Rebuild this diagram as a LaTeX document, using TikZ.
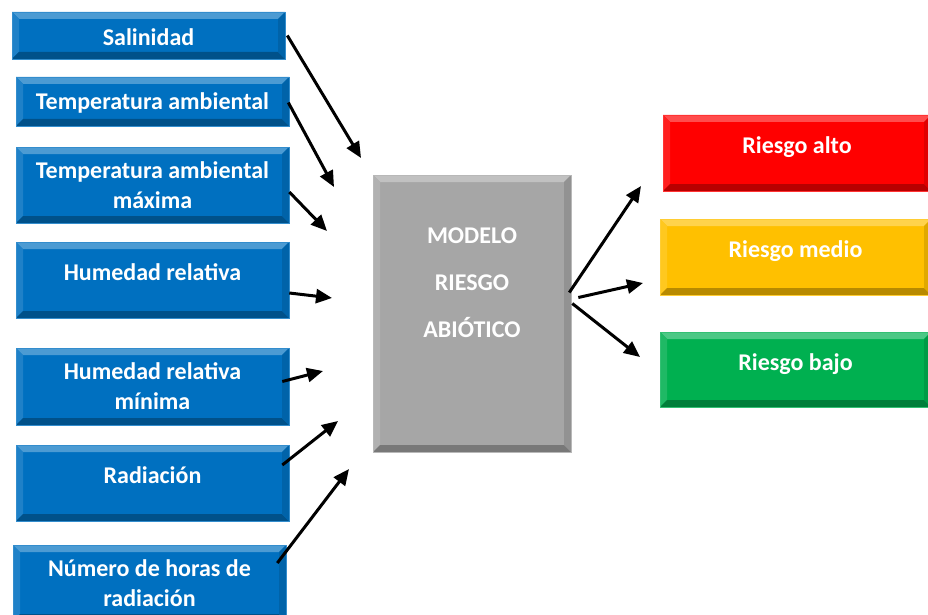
\documentclass[tikz,border=0pt]{standalone}
\usepackage{fontspec}
\setmainfont{Carlito}
\usetikzlibrary{arrows.meta,calc}

\definecolor{boxblue}{RGB}{0,112,192}
\definecolor{boxgray}{RGB}{166,166,166}
\definecolor{boxred}{RGB}{255,0,0}
\definecolor{boxyellow}{RGB}{255,192,0}
\definecolor{boxgreen}{RGB}{0,176,80}

% shift a single line of text inside its box without changing the box size
\newcommand{\liftline}[2]{\raisebox{#1}[\height][\depth]{#2}}

\tikzset{
  bevelbox/.style={
    rectangle, inner sep=0pt, fill=#1, draw=#1!80!white, line width=0.6pt,
    text=white, align=center,
    font=\fontsize{24}{30}\selectfont\bfseries,
    path picture={
      \coordinate (bnw) at (path picture bounding box.north west);
      \coordinate (bse) at (path picture bounding box.south east);
      \coordinate (bne) at (bnw -| bse);
      \coordinate (bsw) at (bnw |- bse);
      % top and left faces lighter, bottom and right faces darker
      \fill[#1!70!white] (bnw) -- (bne) -- ($(bne)+(-7,7)$) -- ($(bnw)+(7,7)$) -- cycle;
      \fill[#1!88!white] (bnw) -- (bsw) -- ($(bsw)+(7,-7)$) -- ($(bnw)+(7,7)$) -- cycle;
      \fill[#1!72!black] (bsw) -- (bse) -- ($(bse)+(-7,-7)$) -- ($(bsw)+(7,-7)$) -- cycle;
      \fill[#1!88!black] (bne) -- (bse) -- ($(bse)+(-7,-7)$) -- ($(bne)+(-7,7)$) -- cycle;
    }
  },
  inbox/.style={bevelbox=boxblue, minimum width=273pt, minimum height=76pt},
  outbox/.style={bevelbox=#1, minimum height=76pt},
  flow/.style={-{Triangle[length=16pt,width=14pt]}, line width=3pt, black}
}

\begin{document}
\begin{tikzpicture}[x=1pt,y=-1pt]
  \useasboundingbox (0,0) rectangle (928,615);
  \clip (0,0) rectangle (928,615);
  \fill[white] (0,0) rectangle (928,615);

  % input variables
  \node[inbox, minimum height=47pt] (sal)  at (148.5,35.5) {\liftline{-1.5pt}{Salinidad}};
  \node[inbox, minimum height=49pt] (tamb) at (152.5,101.5) {\liftline{-1.5pt}{Temperatura ambiental}};
  \node[inbox] (tmax) at (152.5,185) {Temperatura ambiental\\máxima};
  \node[inbox] (hum)  at (152.5,280) {\liftline{8pt}{Humedad relativa}};
  \node[inbox, minimum height=77pt] (hmin) at (152.5,386.5) {Humedad relativa\\mínima};
  \node[inbox] (rad)  at (152.5,483) {\liftline{8pt}{Radiación}};
  \node[inbox] (nh)   at (149.5,583) {Número de horas de\\radiación};

  % model
  \node[bevelbox=boxgray, minimum width=198pt, minimum height=277pt] (model) at (472,313.5)
    {\liftline{32pt}{\fontsize{24}{47}\selectfont\begin{tabular}{@{}c@{}}MODELO\\RIESGO\\ABIÓTICO\end{tabular}}};

  % risk levels
  \node[outbox=boxred,    minimum width=268pt] (alto)  at (797,153)   {\liftline{6pt}{Riesgo alto}};
  \node[outbox=boxyellow, minimum width=271pt] (medio) at (795.5,257) {\liftline{6pt}{Riesgo medio}};
  \node[outbox=boxgreen,  minimum width=271pt, minimum height=75pt] (bajo) at (795.5,369.5) {\liftline{5pt}{Riesgo bajo}};

  % arrow heads
  \coordinate (e1) at (361,158);
  \coordinate (e2) at (334,187);
  \coordinate (e3) at (327,231);
  \coordinate (e4) at (332,298);
  \coordinate (e5) at (323,371);
  \coordinate (e6) at (338,421);
  \coordinate (e7) at (349,469);
  \coordinate (r1) at (641,186);
  \coordinate (r2) at (643,283);
  \coordinate (r3) at (640,357);

  \draw[flow] ($(sal.east)+(2,0)$) -- (e1);
  \draw[flow] ($(tamb.east)+(-1,1)$) -- (e2);
  \draw[flow] ($(tmax.east)+(0,7)$) -- (e3);
  \draw[flow] ($(hum.east)+(0,13)$) -- (e4);
  \draw[flow] ($(hmin.east)+(-7,-5)$) -- (e5);
  \draw[flow] ($(rad.east)+(-7,-18)$) -- (e6);
  \draw[flow] ($(nh.east)+(-9,-20)$) -- (e7);

  \draw[flow] ($(model.east)+(-2,-21)$) -- (r1);
  \draw[flow] ($(model.east)+(7,-16)$) -- (r2);
  \draw[flow] ($(model.east)+(1,-10)$) -- (r3);
\end{tikzpicture}
\end{document}
